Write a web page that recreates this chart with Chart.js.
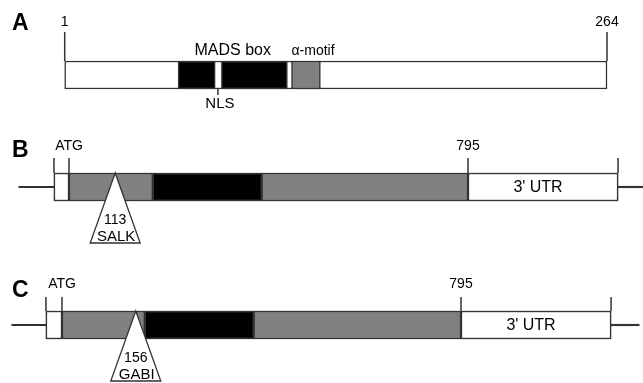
<!DOCTYPE html>
<html>
<head>
<meta charset="utf-8">
<script src="https://cdn.jsdelivr.net/npm/chart.js@4.4.0/dist/chart.umd.min.js"></script>
<style>
    html, body { margin: 0; padding: 0; background: #fff; }
    #wrap { position: relative; width: 643px; height: 383px; overflow: hidden; }
    #wrap canvas { position: absolute; left: 0; }
</style>
</head>
<body>
<div id="wrap">
    <canvas id="panelA" width="643" height="150" style="top:0px"></canvas>
    <canvas id="panelB" width="643" height="120" style="top:127px"></canvas>
    <canvas id="panelC" width="643" height="116" style="top:267px"></canvas>
</div>
<script>
// Panel A - protein, amino acid positions
const proteinSpan = [1, 264];
const proteinMarks = [1, 264];
const proteinMarkLabels = ['1', '264'];
const madsBox = [[56, 74], [77, 109]];
const alphaMotif = [[111, 125]];
const nlsPos = 75.3;

// Panel B - transcript, nt from ATG
const bBox = [-30, 1094];
const bUtr5 = [[-30, 0]];
const bGray = [[0, 167], [384, 795]];
const bBlack = [[167, 384]];
const bUtr3 = [[795, 1094]];
const bFlanks = [[-100, -30], [1094, 1150]];
const bMarks = [-30, 0, 795, 1094];
const bMarkLabels = ['', 'ATG', '795', ''];
const bInsertPos = 92;
const bInsertLabel = ['113', 'SALK'];

// Panel C - transcript, nt from ATG
const cBox = [-32, 1094];
const cUtr5 = [[-32, 0]];
const cGray = [[0, 165], [382, 795]];
const cBlack = [[165, 382]];
const cUtr3 = [[795, 1094]];
const cFlanks = [[-100, -32], [1094, 1150]];
const cMarks = [-32, 0, 795, 1094];
const cMarkLabels = ['', 'ATG', '795', ''];
const cInsertPos = 147;
const cInsertLabel = ['156', 'GABI'];

const LINE = '#333333';
const GRAY = '#808080';
const TEXT = '#000000';
const FONT = '"Liberation Sans", Arial, sans-serif';
const BOX_H = 28;

function segs(ranges, color, order, extra) {
    return Object.assign({
        type: 'bar',
        data: ranges.map(r => ({ x: r, y: 'row' })),
        backgroundColor: color,
        borderColor: LINE,
        borderWidth: 1.5,
        borderSkipped: false,
        barThickness: BOX_H,
        grouped: false,
        order: order
    }, extra || {});
}

function drawText(ctx, str, x, y, size, align, bold) {
    ctx.font = (bold ? 'bold ' : '') + size + 'px ' + FONT;
    ctx.textAlign = align || 'center';
    ctx.textBaseline = 'middle';
    ctx.fillStyle = TEXT;
    ctx.fillText(str, x, y);
}

// annotations: ticks, labels, insertion triangles
const geneMarks = {
    id: 'geneMarks',
    afterDatasetsDraw(chart, args, opts) {
        const ctx = chart.ctx;
        const xs = chart.scales.x;
        const mid = chart.scales.y.getPixelForValue(0);
        const top = mid - BOX_H / 2;
        const bottom = mid + BOX_H / 2;
        ctx.save();
        ctx.strokeStyle = LINE;
        ctx.lineWidth = 1.5;

        drawText(ctx, opts.letter, 12, 24, 23, 'left', true);

        opts.marks.forEach((v, i) => {
            const px = xs.getPixelForValue(v);
            ctx.beginPath();
            ctx.moveTo(px, top - opts.tickLen);
            ctx.lineTo(px, top);
            ctx.stroke();
            if (opts.markLabels[i]) {
                drawText(ctx, opts.markLabels[i], px, top - opts.labelGap, opts.markFont);
            }
        });

        (opts.features || []).forEach(f => {
            drawText(ctx, f.text, xs.getPixelForValue(f.value), top + f.dy, f.size, f.align);
        });

        if (opts.pin) {
            const px = xs.getPixelForValue(opts.pin.value);
            ctx.beginPath();
            ctx.moveTo(px, bottom);
            ctx.lineTo(px, bottom + 6);
            ctx.stroke();
            drawText(ctx, opts.pin.text, px + 2, bottom + 15, 15);
        }

        if (opts.utr) {
            drawText(ctx, opts.utr.text, xs.getPixelForValue(opts.utr.value) - 5, mid + 1, 16);
        }

        if (opts.insert) {
            const ax = xs.getPixelForValue(opts.insert.value);
            ctx.beginPath();
            ctx.moveTo(ax, top);
            ctx.lineTo(ax - 25, top + 70);
            ctx.lineTo(ax + 25, top + 70);
            ctx.closePath();
            ctx.fillStyle = '#ffffff';
            ctx.fill();
            ctx.lineWidth = 1.3;
            ctx.stroke();
            drawText(ctx, opts.insert.label[0], ax, top + 47, 14);
            drawText(ctx, opts.insert.label[1], ax + 1, top + 64, 15);
        }
        ctx.restore();
    }
};

function makePanel(id, datasets, xMin, xMax, marksOpts) {
    const ctx = document.getElementById(id).getContext('2d');
    return new Chart(ctx, {
        type: 'bar',
        data: { labels: ['row'], datasets: datasets },
        options: {
            indexAxis: 'y',
            responsive: false,
            animation: false,
            events: [],
            layout: { padding: 0 },
            plugins: {
                legend: { display: false },
                tooltip: { enabled: false },
                geneMarks: marksOpts
            },
            scales: {
                x: { type: 'linear', min: xMin, max: xMax, bounds: 'data', display: false },
                y: { type: 'category', labels: ['row'], display: false }
            }
        },
        plugins: [geneMarks]
    });
}

// panel A
makePanel('panelA', [
    segs(madsBox, '#000000', 1),
    segs(alphaMotif, GRAY, 1),
    segs([proteinSpan], '#ffffff', 3)
], 1 - 64.7 / 2.062, 1 - 64.7 / 2.062 + 643 / 2.062, {
    letter: 'A',
    marks: proteinMarks,
    markLabels: proteinMarkLabels,
    tickLen: 29,
    labelGap: 39,
    markFont: 14,
    features: [
        { text: 'MADS box', value: (madsBox[0][0] + madsBox[madsBox.length - 1][1]) / 2, dy: -10, size: 16, align: 'center' },
        { text: 'α-motif', value: alphaMotif[0][0], dy: -10, size: 14, align: 'left' }
    ],
    pin: { text: 'NLS', value: nlsPos }
});

const NT_PX = 795 / 399;

// panel B
makePanel('panelB', [
    segs(bGray, GRAY, 1),
    segs(bBlack, '#000000', 1),
    segs(bUtr5, '#ffffff', 2),
    segs(bUtr3, '#ffffff', 2),
    segs([bBox], '#ffffff', 3),
    segs(bFlanks, LINE, 5, { borderWidth: 0, barThickness: 1.5 })
], -69 * NT_PX, -69 * NT_PX + 643 * NT_PX, {
    letter: 'B',
    marks: bMarks,
    markLabels: bMarkLabels,
    tickLen: 15,
    labelGap: 27,
    markFont: 14,
    utr: { text: "3' UTR", value: (bUtr3[0][0] + bUtr3[0][1]) / 2 },
    insert: { value: bInsertPos, label: bInsertLabel }
});

// panel C
makePanel('panelC', [
    segs(cGray, GRAY, 1),
    segs(cBlack, '#000000', 1),
    segs(cUtr5, '#ffffff', 2),
    segs(cUtr3, '#ffffff', 2),
    segs([cBox], '#ffffff', 3),
    segs(cFlanks, LINE, 5, { borderWidth: 0, barThickness: 1.5 })
], -62 * NT_PX, -62 * NT_PX + 643 * NT_PX, {
    letter: 'C',
    marks: cMarks,
    markLabels: cMarkLabels,
    tickLen: 14,
    labelGap: 27,
    markFont: 14,
    utr: { text: "3' UTR", value: (cUtr3[0][0] + cUtr3[0][1]) / 2 },
    insert: { value: cInsertPos, label: cInsertLabel }
});
</script>
</body>
</html>
